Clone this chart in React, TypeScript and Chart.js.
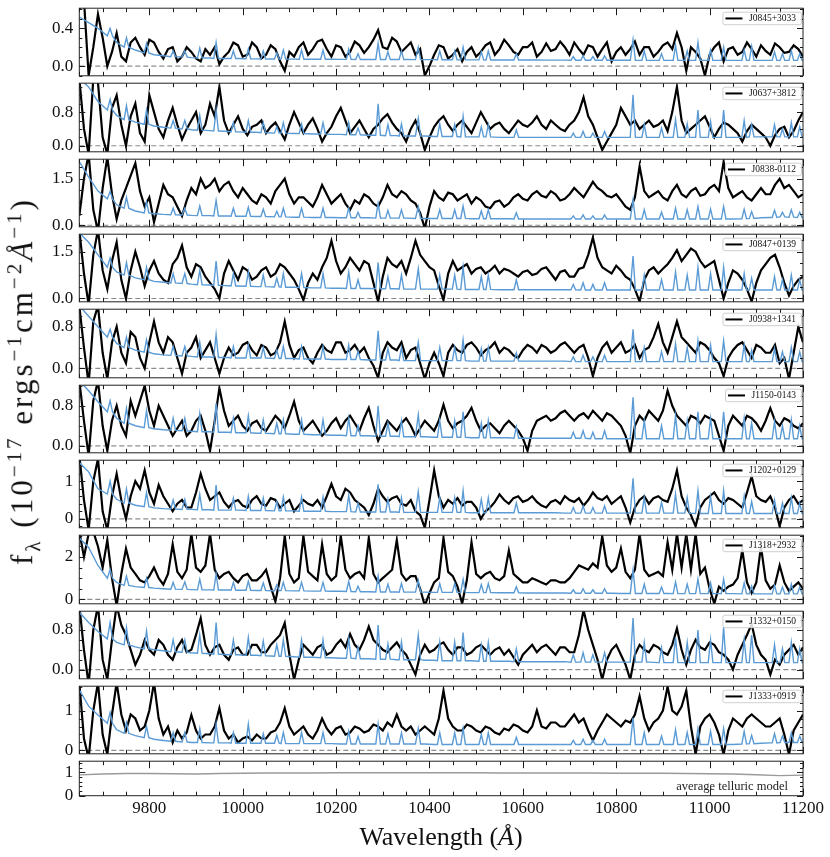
import React, { useEffect, useRef } from "react";
import { Chart, registerables } from "chart.js";
Chart.register(...registerables);

// ---------- data ----------
const WAVE_START = 9650;
const BLACK_STEP = 10;
const BLUE_STEP = 20;
const TELL_STEP = 50;
const X_MIN = 9650;
const X_MAX = 11200;
const xTickLabels = [9800, 10000, 10200, 10400, 10600, 10800, 11000, 11200];

const names = ["J0845+3033", "J0637+3812", "J0838-0112", "J0847+0139", "J0938+1341", "J1150-0143", "J1202+0129", "J1318+2932", "J1332+0150", "J1333+0919"];

const skyLines = [9716, 9751, 9794, 9851, 9876, 9908, 9943, 9980, 10012, 10044, 10073, 10087, 10126, 10172, 10227, 10247, 10290, 10311, 10340, 10376, 10422, 10454, 10472, 10511, 10526, 10586, 10708, 10729, 10750, 10775, 10836, 10860, 10897, 10927, 10952, 10975, 11002, 11030, 11074, 11090, 11139, 11156, 11175, 11193];

const black1 = [0.6,0.7,-0.1,0.2,0.55,0.3,0.0,0.15,0.35,0.1,0.05,0.25,0.3,0.2,0.12,0.28,0.25,0.15,0.08,0.18,
0.2,0.05,0.1,0.2,0.15,0.08,0.05,0.18,0.12,0.2,0.02,0.1,0.15,0.25,0.22,0.1,0.12,0.25,0.2,0.08,
0.12,0.22,0.18,0.05,-0.05,0.15,0.1,0.2,0.25,0.12,0.18,0.26,0.28,0.18,0.1,0.22,0.2,0.1,0.15,0.26,
0.22,0.14,0.2,0.28,0.38,0.2,0.18,0.3,0.26,0.15,0.2,0.25,0.12,0.18,-0.1,0.0,0.12,0.22,0.2,0.08,
0.12,0.18,0.05,0.15,0.2,0.1,0.15,0.22,0.25,0.12,0.18,0.28,0.22,0.15,0.12,0.2,0.2,0.25,0.1,0.15,
0.24,0.16,0.18,0.26,0.2,0.12,0.25,0.18,0.12,0.22,0.2,0.1,0.18,0.25,0.05,0.15,0.2,0.12,0.18,0.26,
0.12,0.2,0.2,0.1,0.15,0.22,0.25,0.18,0.35,0.2,-0.05,0.2,0.15,0.08,-0.1,0.12,0.2,0.25,0.05,0.18,
0.2,0.12,0.15,0.25,0.18,0.1,0.22,0.16,0.12,0.24,0.2,0.14,0.15,0.22,0.18,0.1,0.12];
const black2 = [1.6,0.4,-0.2,1.6,1.5,0.2,-0.2,0.9,1.2,0.5,0.0,0.7,1.0,0.3,0.1,1.2,0.8,0.4,0.2,0.6,
0.9,0.5,0.15,0.4,0.6,0.8,0.3,0.5,1.0,0.7,1.4,0.6,0.3,0.5,0.7,0.4,0.25,0.45,0.5,0.6,
0.3,0.45,0.55,0.35,0.15,0.5,0.8,0.55,0.3,0.5,0.65,0.4,0.1,0.3,0.45,0.7,0.9,0.6,0.3,0.45,
0.6,0.4,0.2,0.4,0.5,0.65,0.75,0.55,0.4,0.3,0.1,0.4,0.6,0.3,-0.1,0.2,0.45,0.6,0.7,0.5,
0.35,0.5,0.6,0.45,0.3,0.55,0.8,0.6,0.4,0.5,0.55,0.4,0.3,0.45,0.6,0.5,0.45,0.55,0.7,0.5,
0.4,0.6,0.5,0.4,0.35,0.5,0.6,0.8,1.15,0.7,0.5,0.2,-0.1,0.1,0.3,0.5,0.9,0.7,0.5,0.6,
0.4,0.5,0.6,0.45,0.5,0.6,0.35,0.8,1.4,0.6,0.3,0.4,0.5,0.6,0.7,0.45,0.2,0.4,0.55,0.5,
0.4,0.3,0.1,0.35,0.5,0.4,0.3,0.2,0.0,0.25,0.4,0.45,0.2,0.35,0.6,0.8,1.0];
const black3 = [0.3,1.5,2.3,0.5,-0.2,1.2,2.2,1.0,0.2,0.8,1.2,1.6,2.0,1.1,0.6,0.9,0.1,0.7,1.3,1.0,
0.9,0.6,0.3,0.8,1.2,1.0,1.5,1.2,1.3,1.5,1.1,1.3,1.4,1.1,0.9,1.2,1.0,0.8,0.7,1.0,
0.9,0.7,1.1,1.3,1.5,1.0,0.7,0.9,0.9,0.75,0.6,0.9,1.3,1.0,0.7,0.85,1.0,0.7,0.5,0.8,
0.7,1.0,0.9,0.7,0.6,0.9,1.3,1.0,0.9,1.1,1.0,0.8,0.7,0.4,-0.1,0.6,1.1,0.9,0.8,1.05,
1.0,0.8,0.9,1.0,0.7,0.9,0.8,0.6,0.55,0.75,0.8,0.6,0.7,0.9,1.0,0.85,0.8,1.0,1.1,0.95,
0.9,1.1,1.0,0.8,0.85,1.0,1.2,1.05,0.9,1.15,1.4,1.2,1.1,0.95,0.9,1.0,0.8,0.6,0.5,0.9,
1.9,1.1,0.9,1.0,1.1,0.9,0.8,1.1,1.3,1.0,0.9,1.1,1.2,0.95,1.0,1.2,1.3,1.1,2.05,1.2,
0.9,1.0,1.1,0.9,0.8,1.0,1.2,1.0,1.0,1.3,1.5,1.2,1.3,1.1,0.9,1.0,1.1];
const black4 = [2.2,0.8,-0.2,1.4,2.2,0.9,0.3,1.2,1.8,0.6,0.0,0.9,1.5,1.0,0.4,0.9,1.2,0.8,0.6,0.5,
1.1,1.3,1.7,1.0,0.7,1.1,1.0,0.7,0.5,0.3,0.0,0.8,1.2,0.9,0.6,1.0,0.9,0.6,0.7,0.9,
1.0,0.7,0.8,1.1,1.0,0.8,0.6,0.3,-0.05,0.5,0.8,0.6,1.0,1.3,1.85,1.2,0.8,1.0,1.3,1.1,
0.9,1.2,1.1,0.5,-0.1,0.7,1.3,1.1,1.0,1.2,0.8,1.3,1.85,1.4,1.2,1.0,0.9,0.4,-0.05,0.8,
1.2,0.9,1.0,1.1,0.8,0.95,1.0,0.8,0.9,1.05,0.8,0.95,0.9,0.8,0.7,0.85,0.9,0.75,0.8,0.95,
1.0,0.8,0.6,0.85,0.9,0.7,0.7,0.95,1.0,1.4,1.95,1.3,1.0,0.9,0.8,1.05,0.9,0.7,0.6,0.3,
-0.1,0.6,0.9,1.0,0.8,0.95,1.1,1.3,1.55,1.2,1.4,1.6,1.5,1.2,1.0,1.1,1.2,0.6,0.0,0.5,
0.9,0.8,0.6,0.3,-0.1,0.5,0.9,1.1,1.3,1.4,1.0,0.5,0.1,0.4,0.6,0.7,0.5];
const black5 = [1.2,0.4,-0.3,0.9,1.2,0.3,-0.2,0.5,0.8,0.3,0.1,0.7,0.6,0.2,0.0,0.5,0.9,0.5,0.3,0.6,
0.5,0.2,-0.1,0.3,0.4,0.6,0.2,0.35,0.5,0.2,-0.1,0.2,0.4,0.25,0.3,0.45,0.5,0.35,0.25,0.45,
0.4,0.25,0.3,0.5,0.9,0.45,0.2,0.35,0.4,0.2,0.1,0.3,0.45,0.35,0.3,0.5,0.5,0.3,0.35,0.45,
0.3,0.4,0.2,0.05,-0.18,0.3,0.5,0.4,0.35,0.5,0.2,0.35,0.4,0.1,-0.2,0.1,0.3,0.1,-0.15,0.3,
0.45,0.35,0.3,0.45,0.5,0.4,0.25,0.35,0.4,0.5,0.3,0.4,0.35,0.25,0.2,0.35,0.45,0.4,0.3,0.45,
0.4,0.3,0.35,0.45,0.5,0.4,0.3,0.4,0.45,0.2,-0.15,0.2,0.4,0.5,0.3,0.4,0.5,0.3,0.35,0.45,
0.2,0.35,0.4,0.6,0.85,0.5,0.3,0.6,0.9,0.6,0.5,0.4,0.3,0.5,0.45,0.35,0.2,0.1,-0.15,0.2,
0.35,0.45,0.5,0.35,0.2,0.45,0.4,0.3,0.3,0.45,0.1,0.2,-0.2,0.3,0.8,0.5,0.3];
const black6 = [1.3,0.5,-0.2,0.9,1.3,0.4,-0.1,0.5,0.8,0.4,0.2,0.9,0.6,0.9,1.2,0.7,0.4,0.8,0.6,0.4,
0.2,0.35,0.5,0.2,0.3,0.5,0.6,0.3,-0.1,0.5,1.15,0.7,0.4,0.5,0.6,0.4,0.3,0.45,0.5,0.35,
0.3,0.45,0.6,0.5,0.35,0.6,0.88,0.5,0.3,0.4,0.5,0.35,0.2,0.3,0.45,0.55,0.35,0.5,0.6,0.45,
0.3,0.55,0.76,0.4,0.1,0.3,0.5,0.4,0.3,0.45,0.55,0.4,0.2,0.35,0.5,0.4,0.3,0.5,0.82,0.5,
0.35,0.45,0.5,0.6,0.76,0.5,0.3,0.4,0.45,0.35,0.25,0.4,0.5,0.4,0.3,0.15,-0.1,0.3,0.5,0.55,
0.6,0.5,0.55,0.65,0.7,0.6,0.5,0.6,0.65,0.55,0.7,0.6,0.5,0.65,0.6,0.5,0.4,0.2,-0.15,0.4,
0.6,0.5,0.7,0.6,0.5,0.7,1.1,0.8,0.6,0.5,0.4,0.6,0.55,0.45,0.6,0.55,0.5,0.2,-0.1,0.4,
0.6,0.5,0.4,0.6,0.55,0.45,0.3,0.5,0.75,0.5,0.4,0.55,0.5,0.4,0.35,0.45,0.5];
const black7 = [1.7,0.5,-0.3,1.0,1.6,0.2,-0.3,0.6,1.2,0.5,0.0,0.6,1.0,0.8,1.29,0.7,0.4,0.9,0.6,0.4,
0.2,0.4,0.5,0.3,0.3,0.7,1.2,0.8,0.5,0.6,0.7,0.45,0.3,0.45,0.5,0.35,0.3,0.5,0.6,0.4,
0.35,0.55,0.5,0.3,0.4,0.5,0.2,0.35,0.5,0.4,0.35,0.5,0.3,0.6,0.93,0.6,0.5,0.8,0.7,0.5,
0.4,0.3,0.1,0.4,0.8,0.6,0.45,0.55,0.6,0.4,0.35,0.5,0.2,0.1,-0.24,0.5,1.29,0.6,0.3,0.5,
0.4,0.55,0.35,0.45,0.45,0.3,0.0,0.2,0.3,0.45,0.65,0.5,0.4,0.55,0.6,0.45,0.5,0.6,0.45,0.35,
0.3,0.45,0.5,0.4,0.6,0.5,0.45,0.55,0.35,0.5,0.7,0.55,0.5,0.6,0.4,0.5,0.6,0.3,-0.1,0.3,
0.5,0.6,0.4,0.55,0.6,0.5,0.45,0.8,1.29,0.6,0.3,0.1,-0.2,0.3,0.5,0.6,0.7,0.5,0.4,0.55,
0.5,0.4,0.3,0.7,1.13,0.6,0.5,0.45,0.6,0.3,-0.2,0.3,0.5,0.6,0.4,0.5,0.55];
const black8 = [3.2,2.0,3.1,3.2,2.5,1.5,2.8,1.0,-0.3,1.2,2.39,1.5,1.2,0.9,0.8,1.1,1.5,1.0,0.7,1.2,
2.6,1.3,1.0,1.4,3.1,1.5,1.3,1.6,3.1,1.4,1.0,1.2,1.3,1.0,0.8,1.1,1.2,0.9,0.9,1.1,
1.4,0.6,-0.1,1.0,3.0,1.2,0.8,1.0,3.0,1.3,1.1,0.9,2.6,1.2,0.9,1.1,3.0,1.4,1.0,1.2,
1.3,1.0,2.9,1.2,0.8,1.0,1.2,1.4,2.8,1.2,0.9,1.1,1.1,0.5,-0.3,0.3,0.8,1.0,2.9,1.3,
1.1,0.6,-0.2,0.9,2.7,1.2,1.0,1.2,1.3,1.0,0.9,1.1,2.3,1.2,1.0,0.8,0.8,1.0,0.9,0.8,
0.7,0.9,0.9,0.8,0.8,1.0,1.3,1.6,1.5,1.4,1.7,1.5,2.98,1.6,1.3,1.5,2.4,1.3,1.0,1.4,
3.1,1.4,1.1,1.2,1.3,1.1,2.7,1.4,3.1,1.5,3.1,1.4,3.1,1.2,1.5,0.5,-0.2,0.6,0.4,0.6,
0.7,1.0,2.33,0.8,0.3,0.8,2.5,0.9,0.5,0.7,1.6,0.8,0.4,0.6,0.8,0.5,0.3];
const black9 = [1.3,0.4,-0.3,0.8,1.3,0.2,-0.2,0.6,1.3,0.9,0.7,0.4,0.1,0.3,0.6,0.4,0.3,0.6,0.5,0.3,
0.2,0.45,0.6,0.35,0.4,0.7,1.04,0.5,0.3,0.45,0.5,0.3,0.2,0.4,0.45,0.3,0.3,0.5,0.5,0.35,
0.35,0.5,0.6,0.7,0.94,0.3,-0.2,0.2,0.5,0.4,0.3,0.45,0.5,0.3,0.35,0.5,0.6,0.45,0.72,0.5,
0.4,0.6,0.87,0.6,0.5,0.4,0.35,0.45,0.55,0.4,0.3,0.1,-0.1,0.3,0.5,0.35,0.4,0.5,0.55,0.4,
0.3,0.45,0.45,0.3,0.35,0.45,0.5,0.4,0.3,0.4,0.45,0.3,0.4,0.25,0.1,0.3,0.4,0.5,0.35,0.45,
0.5,0.4,0.3,0.45,0.45,0.35,0.35,0.7,1.2,0.8,0.5,0.2,-0.2,0.2,0.4,0.5,0.3,0.1,-0.2,0.3,
0.5,0.4,0.35,0.5,0.45,0.35,0.3,0.5,0.83,0.4,0.1,0.4,0.6,0.45,0.4,0.55,0.5,0.35,0.3,0.2,
0.0,0.3,0.5,0.7,0.92,0.5,0.3,0.2,-0.1,0.2,0.1,0.3,0.4,0.5,0.3,0.45,0.5];
const black10 = [1.7,0.3,-0.2,1.0,1.7,0.4,-0.1,0.9,1.7,0.9,0.5,0.9,0.8,0.5,0.6,1.0,1.7,0.8,0.4,0.6,
0.2,0.5,0.3,0.45,0.89,0.5,0.3,0.4,0.4,0.6,1.06,0.5,0.3,0.4,0.2,0.3,0.35,0.25,0.4,0.3,
0.3,0.45,0.5,0.7,1.06,0.6,0.4,0.5,0.6,0.4,0.3,0.5,0.8,0.55,0.4,0.55,0.6,0.4,0.45,0.6,
0.55,0.45,0.5,0.65,0.6,0.5,0.7,0.6,0.9,0.6,0.5,0.6,0.4,0.5,0.6,0.5,0.4,0.8,1.5,0.8,
0.6,0.5,0.5,0.65,0.6,0.5,0.45,0.6,0.55,0.45,0.4,0.55,0.5,0.65,0.6,0.5,0.45,0.6,1.0,0.6,
0.55,0.7,0.7,0.6,0.6,0.75,0.9,0.7,0.8,0.5,0.25,0.5,0.7,0.9,0.8,0.7,0.6,0.75,0.7,0.9,
1.36,0.8,0.5,0.7,0.8,1.0,1.6,1.0,0.9,1.1,1.5,0.6,-0.1,0.6,0.8,0.9,0.7,0.4,-0.1,0.5,
0.8,0.7,0.6,0.8,0.9,0.8,0.7,0.6,0.6,0.7,0.8,0.4,-0.1,0.5,0.7,0.9,0.8];

const blueBase1 = [0.52,0.46,0.4,0.32,0.25,0.2,0.17,0.14,0.12,0.11, 0.1,0.095,0.09,0.085,0.085,0.08,0.08,0.08,0.078,0.076, 0.075,0.075,0.074,0.074,0.073,0.073,0.072,0.072,0.071,0.071, 0.07,0.07,0.07,0.07,0.069,0.069,0.068,0.068,0.068,0.067, 0.067,0.066,0.066,0.066,0.065,0.065,0.065,0.064,0.064,0.064, 0.063,0.063,0.063,0.062,0.062,0.062,0.062,0.061,0.061,0.061, 0.06,0.06,0.06,0.06,0.06,0.06,0.06,0.06,0.06,0.06, 0.06,0.06,0.06,0.06,0.06,0.06,0.06,0.06,0.06];
const blueBase2 = [1.6,1.4,1.05,0.85,0.72,0.62,0.56,0.51,0.47,0.44, 0.42,0.4,0.38,0.37,0.36,0.35,0.34,0.33,0.32,0.32, 0.31,0.3,0.3,0.29,0.29,0.28,0.28,0.27,0.27,0.26, 0.26,0.25,0.25,0.24,0.24,0.23,0.23,0.23,0.22,0.22, 0.22,0.21,0.21,0.21,0.21,0.2,0.2,0.2,0.2,0.2, 0.2,0.2,0.2,0.2,0.2,0.2,0.2,0.2,0.2,0.2, 0.2,0.2,0.2,0.2,0.2,0.2,0.2,0.2,0.2,0.2, 0.2,0.2,0.21,0.21,0.21,0.21,0.21,0.21,0.21];
const blueBase3 = [2.05,1.55,1.1,0.85,0.66,0.55,0.46,0.4,0.37,0.35, 0.34,0.33,0.32,0.31,0.31,0.3,0.3,0.29,0.29,0.28, 0.28,0.27,0.27,0.26,0.26,0.25,0.25,0.25,0.24,0.24, 0.24,0.24,0.23,0.23,0.23,0.23,0.22,0.22,0.22,0.22, 0.22,0.22,0.21,0.21,0.21,0.21,0.21,0.2,0.2,0.2, 0.2,0.2,0.2,0.2,0.2,0.2,0.2,0.2,0.2,0.2, 0.2,0.2,0.2,0.2,0.2,0.2,0.2,0.2,0.2,0.2, 0.2,0.21,0.22,0.24,0.25,0.27,0.26,0.25,0.25];
const blueBase4 = [2.1,1.8,1.4,1.0,0.85,0.75,0.66,0.6,0.55,0.52, 0.5,0.48,0.46,0.44,0.43,0.42,0.41,0.4,0.39,0.38, 0.38,0.37,0.36,0.36,0.35,0.34,0.34,0.33,0.33,0.32, 0.32,0.32,0.31,0.31,0.31,0.3,0.3,0.3,0.3,0.3, 0.3,0.29,0.29,0.29,0.29,0.28,0.28,0.28,0.28,0.28, 0.28,0.28,0.28,0.28,0.27,0.27,0.27,0.27,0.27,0.27, 0.27,0.27,0.27,0.27,0.27,0.27,0.27,0.27,0.27,0.27, 0.27,0.27,0.27,0.27,0.27,0.27,0.27,0.27,0.27];
const blueBase5 = [1.2,1.0,0.8,0.6,0.48,0.4,0.35,0.31,0.28,0.26, 0.25,0.24,0.23,0.22,0.22,0.21,0.21,0.2,0.2,0.2, 0.2,0.19,0.19,0.19,0.18,0.18,0.18,0.17,0.17,0.17, 0.17,0.16,0.16,0.16,0.16,0.15,0.15,0.15,0.15,0.15, 0.15,0.15,0.14,0.14,0.14,0.14,0.14,0.14,0.14,0.14, 0.14,0.14,0.14,0.13,0.13,0.13,0.13,0.13,0.13,0.13, 0.13,0.13,0.13,0.13,0.13,0.13,0.13,0.13,0.13,0.13, 0.13,0.13,0.13,0.13,0.13,0.13,0.13,0.13,0.13];
const blueBase6 = [1.3,1.1,0.88,0.68,0.55,0.45,0.4,0.36,0.34,0.32, 0.31,0.3,0.29,0.28,0.28,0.27,0.27,0.26,0.26,0.25, 0.25,0.24,0.24,0.23,0.23,0.22,0.22,0.21,0.21,0.2, 0.2,0.2,0.19,0.19,0.19,0.18,0.18,0.18,0.17,0.17, 0.17,0.17,0.16,0.16,0.16,0.16,0.16,0.15,0.15,0.15, 0.15,0.15,0.15,0.15,0.15,0.14,0.14,0.14,0.14,0.14, 0.14,0.14,0.14,0.14,0.14,0.14,0.14,0.14,0.14,0.14, 0.14,0.14,0.14,0.14,0.14,0.14,0.14,0.14,0.14];
const blueBase7 = [1.5,1.25,0.8,0.66,0.52,0.42,0.36,0.32,0.29,0.27, 0.26,0.25,0.25,0.24,0.24,0.23,0.23,0.23,0.22,0.22, 0.22,0.21,0.21,0.21,0.2,0.2,0.2,0.19,0.19,0.19, 0.18,0.18,0.18,0.18,0.18,0.17,0.17,0.17,0.17,0.17, 0.17,0.17,0.16,0.16,0.16,0.16,0.16,0.16,0.16,0.16, 0.16,0.16,0.15,0.15,0.15,0.15,0.15,0.15,0.15,0.15, 0.15,0.15,0.15,0.15,0.15,0.15,0.14,0.14,0.14,0.14, 0.14,0.14,0.14,0.14,0.14,0.14,0.14,0.14,0.14];
const blueBase8 = [2.9,2.45,1.6,1.0,0.8,0.66,0.6,0.56,0.53,0.5, 0.48,0.47,0.46,0.45,0.45,0.44,0.44,0.43,0.43,0.42, 0.42,0.41,0.41,0.4,0.4,0.39,0.39,0.38,0.38,0.37, 0.36,0.36,0.35,0.35,0.35,0.34,0.34,0.34,0.33,0.33, 0.33,0.33,0.32,0.32,0.32,0.31,0.31,0.31,0.3,0.3, 0.3,0.3,0.3,0.29,0.29,0.29,0.29,0.29,0.28,0.28, 0.28,0.28,0.28,0.28,0.27,0.27,0.27,0.27,0.27,0.27, 0.27,0.26,0.26,0.26,0.26,0.26,0.26,0.26,0.26];
const blueBase9 = [1.16,0.95,0.77,0.62,0.55,0.5,0.46,0.42,0.4,0.38, 0.36,0.35,0.34,0.33,0.32,0.31,0.3,0.3,0.29,0.29, 0.28,0.27,0.27,0.26,0.25,0.25,0.24,0.24,0.23,0.23, 0.22,0.22,0.21,0.21,0.2,0.2,0.2,0.19,0.19,0.18, 0.18,0.18,0.18,0.17,0.17,0.17,0.17,0.16,0.16,0.16, 0.16,0.16,0.16,0.15,0.15,0.15,0.15,0.15,0.15,0.15, 0.15,0.15,0.14,0.14,0.14,0.14,0.14,0.14,0.14,0.14, 0.14,0.14,0.14,0.14,0.14,0.14,0.14,0.14,0.14];
const blueBase10 = [1.52,1.11,0.89,0.68,0.52,0.43,0.37,0.32,0.28,0.25, 0.23,0.21,0.2,0.2,0.19,0.19,0.19,0.18,0.18,0.18, 0.18,0.18,0.17,0.17,0.17,0.17,0.17,0.17,0.16,0.16, 0.16,0.16,0.16,0.16,0.16,0.16,0.16,0.16,0.15,0.15, 0.15,0.15,0.15,0.15,0.15,0.15,0.15,0.15,0.15,0.15, 0.15,0.15,0.15,0.15,0.15,0.15,0.15,0.15,0.15,0.15, 0.15,0.15,0.15,0.15,0.15,0.15,0.15,0.15,0.15,0.15, 0.15,0.16,0.17,0.18,0.19,0.2,0.2,0.2,0.2];

const skyPeaks1 = [0.40,0.30,0.24,0.16,0.16,0.19,0.25,0.16,0.18,0.16, 0.14,0.17,0.17,0.17,0.18,0.13,0.24,0.15,0.16,0.2, 0.16,0.16,0.2,0.15,0.16,0.13,0.1,0.11,0.1,0.11, 0.28,0.16,0.13,0.22,0.16,0.25,0.17,0.2,0.17,0.21, 0.15,0.13,0.16,0.13];
const skyPeaks2 = [1.1,0.95,0.85,0.6,0.6,0.72,0.85,0.55,0.6,0.55, 0.45,0.55,0.52,0.55,0.55,0.42,1.0,0.5,0.52,0.65, 0.52,0.5,0.7,0.45,0.5,0.38,0.3,0.34,0.3,0.34, 1.21,0.5,0.42,0.62,0.52,0.85,0.58,0.85,0.6,0.5, 0.5,0.4,0.55,0.45];
const skyPeaks3 = [1.1,0.9,0.75,0.55,0.55,0.62,0.8,0.55,0.58,0.52, 0.45,0.55,0.55,0.55,0.55,0.42,0.7,0.48,0.5,0.6, 0.5,0.5,0.62,0.46,0.5,0.4,0.3,0.33,0.3,0.33, 0.82,0.5,0.42,0.55,0.5,0.6,0.52,0.6,0.52,0.44, 0.48,0.42,0.5,0.42];
const skyPeaks4 = [1.3,1.15,1.0,0.8,0.8,0.9,1.2,0.8,0.85,0.75, 0.65,0.8,0.8,0.8,0.85,0.6,1.15,0.7,0.75,0.95, 0.75,0.75,1.0,0.7,0.75,0.6,0.45,0.5,0.45,0.5, 1.36,0.75,0.6,0.85,0.75,1.0,0.8,1.0,0.8,0.65, 0.7,0.6,0.75,0.6];
const skyPeaks5 = [0.75,0.6,0.55,0.42,0.42,0.5,0.65,0.42,0.45,0.4, 0.35,0.42,0.42,0.42,0.45,0.33,0.72,0.38,0.4,0.5, 0.4,0.4,0.55,0.38,0.4,0.3,0.22,0.25,0.22,0.25, 0.75,0.4,0.32,0.47,0.4,0.53,0.45,0.53,0.45,0.35, 0.38,0.32,0.4,0.32];
const skyPeaks6 = [0.9,0.75,0.7,0.55,0.55,0.65,0.85,0.55,0.6,0.52, 0.45,0.52,0.52,0.52,0.55,0.4,0.8,0.45,0.5,0.62, 0.5,0.5,0.68,0.45,0.5,0.38,0.27,0.3,0.27,0.3, 0.97,0.5,0.4,0.6,0.5,0.68,0.55,0.68,0.55,0.45, 0.48,0.4,0.52,0.4];
const skyPeaks7 = [1.0,0.8,0.7,0.5,0.52,0.65,0.9,0.55,0.6,0.55, 0.45,0.58,0.58,0.58,0.62,0.42,0.92,0.52,0.56,0.72, 0.56,0.56,0.75,0.52,0.56,0.42,0.3,0.34,0.3,0.34, 1.08,0.56,0.44,0.66,0.56,0.75,0.6,0.75,0.6,0.46, 0.5,0.42,0.56,0.42];
const skyPeaks8 = [1.4,1.1,1.0,0.8,0.82,0.95,1.2,0.8,0.85,0.78, 0.68,0.8,0.8,0.8,0.85,0.62,1.1,0.72,0.75,0.9, 0.75,0.75,0.95,0.7,0.75,0.6,0.45,0.5,0.45,0.5, 1.39,0.72,0.58,0.82,0.72,0.95,0.78,0.95,0.78,0.62, 0.66,0.58,0.72,0.58];
const skyPeaks9 = [0.95,0.85,0.78,0.6,0.6,0.7,0.95,0.6,0.65,0.58, 0.5,0.6,0.6,0.6,0.62,0.45,0.9,0.52,0.56,0.7, 0.56,0.56,0.75,0.5,0.55,0.42,0.3,0.34,0.3,0.34, 1.04,0.55,0.44,0.65,0.55,0.8,0.6,0.86,0.6,0.7, 0.5,0.42,0.55,0.42];
const skyPeaks10 = [0.95,0.7,0.6,0.45,0.45,0.55,0.66,0.45,0.66,0.42, 0.38,0.45,0.45,0.45,0.48,0.35,0.66,0.42,0.44,0.55, 0.44,0.44,0.55,0.4,0.44,0.33,0.25,0.28,0.25,0.28, 0.82,0.45,0.36,0.52,0.45,0.55,0.48,0.55,0.48,0.38, 0.42,0.36,0.44,0.36];

const telluric = [0.89,0.93,0.95,0.95,0.94,0.93,0.95,0.96,0.97,0.97, 0.97,0.98,0.98,0.98,0.98,0.98,0.98,0.98,0.97,0.97, 0.97,0.97,0.97,0.96,0.96,0.96,0.95,0.94,0.93,0.9, 0.86,0.88];

// axis ranges & ticks per panel
const yMins = [-0.103, -0.144, -0.05, -0.106, -0.18, -0.14, -0.24, -0.21, -0.186, -0.084];
const yMaxs = [0.613, 1.487, 2.13, 2.06, 1.135, 1.21, 1.56, 3.03, 1.18, 1.61];
const yMajors = [[0, 0.4], [0, 0.8], [0, 1.5], [0, 1.5], [0, 0.8], [0, 0.8], [0, 1], [0, 2], [0, 0.8], [0, 1]];
const yMinorSteps = [0.1, 0.2, 0.375, 0.375, 0.2, 0.2, 0.2, 0.5, 0.2, 0.2];
const yDecimals = [1, 1, 1, 1, 1, 1, 0, 0, 1, 0];
const tellMin = 0, tellMax = 1.478, tellMajors = [0, 1], tellMinor = 0.2;

const blacks = [black1, black2, black3, black4, black5, black6, black7, black8, black9, black10];
const blueBases = [blueBase1, blueBase2, blueBase3, blueBase4, blueBase5, blueBase6, blueBase7, blueBase8, blueBase9, blueBase10];
const skyPeaks = [skyPeaks1, skyPeaks2, skyPeaks3, skyPeaks4, skyPeaks5, skyPeaks6, skyPeaks7, skyPeaks8, skyPeaks9, skyPeaks10];

// ---------- style / layout ----------
const FONT = '"Liberation Serif", "Times New Roman", serif';
const W = 830;
const PLOT_LEFT = 79.3;
const PLOT_RIGHT = 803;
const TOP0 = 4.5;
const PANEL_H = 75.32;
const TELL_H = 38;
const X_AXIS_H = 40;
const BLUE = "#5b9bd5";
const SHOULDER = 5;
const X_MINOR = 50;

function gridPoints(vals: number[], start: number, step: number) {
  return vals.map((v, i) => ({ x: start + i * step, y: v }));
}

function bluePoints(base: number[], peaks: number[]) {
  const pts: { x: number; y: number }[] = [];
  base.forEach((v, i) => {
    const x = WAVE_START + i * BLUE_STEP;
    if (!skyLines.some((l) => Math.abs(l - x) <= SHOULDER)) pts.push({ x, y: v });
  });
  skyLines.forEach((l, j) => {
    const k = Math.min(base.length - 1, Math.max(0, Math.round((l - WAVE_START) / BLUE_STEP)));
    const b = base[k];
    pts.push({ x: l - SHOULDER, y: b }, { x: l, y: peaks[j] }, { x: l + SHOULDER, y: b });
  });
  pts.sort((a, b) => a.x - b.x);
  return pts;
}

const framePlugin = {
  id: "frame",
  beforeDatasetsDraw(chart: any, _args: any, opts: any) {
    if (!opts.zeroLine) return;
    const { ctx, chartArea: a, scales } = chart;
    const y0 = scales.y.getPixelForValue(0);
    ctx.save();
    ctx.strokeStyle = "#8c8c8c";
    ctx.lineWidth = 1.2;
    ctx.setLineDash([5, 3]);
    ctx.beginPath();
    ctx.moveTo(a.left, y0);
    ctx.lineTo(a.right, y0);
    ctx.stroke();
    ctx.restore();
  },
  afterDatasetsDraw(chart: any, _args: any, opts: any) {
    const { ctx, chartArea: a, scales } = chart;
    const xs = scales.x, ys = scales.y;
    ctx.save();
    ctx.strokeStyle = "#1a1a1a";
    ctx.lineWidth = 1;
    ctx.beginPath();
    for (let v = X_MIN; v <= X_MAX + 0.01; v += X_MINOR) {
      const px = Math.round(xs.getPixelForValue(v)) + 0.5;
      const len = xTickLabels.includes(v) ? 7 : 4;
      ctx.moveTo(px, a.bottom);
      ctx.lineTo(px, a.bottom - len);
      ctx.moveTo(px, a.top);
      ctx.lineTo(px, a.top + len);
    }
    const step = opts.minor;
    for (let k = Math.ceil(ys.min / step - 1e-6); k * step <= ys.max + 1e-6; k++) {
      const v = k * step;
      const py = Math.round(ys.getPixelForValue(v)) + 0.5;
      const len = opts.majors.some((m: number) => Math.abs(m - v) < 1e-6) ? 6 : 3;
      ctx.moveTo(a.left, py);
      ctx.lineTo(a.left + len, py);
      ctx.moveTo(a.right, py);
      ctx.lineTo(a.right - len, py);
    }
    ctx.stroke();
    ctx.strokeStyle = "#222";
    ctx.strokeRect(a.left, a.top, a.right - a.left, a.bottom - a.top);

    if (opts.label) {
      ctx.font = `9.5px ${FONT}`;
      const tw = ctx.measureText(opts.label).width;
      const boxH = 12.5;
      const boxW = 2 + 17 + 6.5 + tw + 6;
      const boxR = a.right - 1.5;
      const boxL = boxR - boxW;
      const boxT = a.top + 4;
      ctx.fillStyle = "rgba(255,255,255,0.85)";
      ctx.strokeStyle = "#cfcfcf";
      ctx.lineWidth = 1;
      ctx.beginPath();
      if (ctx.roundRect) ctx.roundRect(boxL, boxT, boxW, boxH, 2);
      else ctx.rect(boxL, boxT, boxW, boxH);
      ctx.fill();
      ctx.stroke();
      const cy = boxT + boxH / 2;
      ctx.strokeStyle = "#000";
      ctx.lineWidth = 2;
      ctx.beginPath();
      ctx.moveTo(boxL + 2.5, cy);
      ctx.lineTo(boxL + 19.5, cy);
      ctx.stroke();
      ctx.fillStyle = "#111";
      ctx.textBaseline = "middle";
      ctx.textAlign = "left";
      ctx.fillText(opts.label, boxL + 26, cy + 0.5);
    }
    if (opts.note) {
      ctx.font = `12.5px ${FONT}`;
      ctx.fillStyle = "#222";
      ctx.textAlign = "right";
      ctx.textBaseline = "alphabetic";
      ctx.fillText(opts.note, a.right - 15, a.bottom - 6);
    }
    ctx.restore();
  },
};

type PanelProps = {
  index: number;
  isTell: boolean;
};

function Panel({ index, isTell }: PanelProps) {
  const ref = useRef<HTMLCanvasElement | null>(null);
  const panelTop = TOP0 + index * PANEL_H;
  const panelBottom = panelTop + (isTell ? TELL_H : PANEL_H);
  const canvasTop = Math.floor(panelTop) - 12;
  const canvasBottom = isTell ? 857 : Math.ceil(panelBottom) + 12;
  const canvasH = canvasBottom - canvasTop;
  const padTop = panelTop - canvasTop;
  const padBottom = canvasBottom - panelBottom - (isTell ? X_AXIS_H : 0);

  useEffect(() => {
    const canvas = ref.current;
    if (!canvas) return;
    const datasets: any[] = [];
    let min: number, max: number, majors: number[], minor: number, dec: number;
    if (isTell) {
      datasets.push({
        data: gridPoints(telluric, WAVE_START, TELL_STEP),
        borderColor: "#9a9a9a",
        borderWidth: 1.4,
        pointRadius: 0,
        tension: 0,
        clip: 0,
      });
      min = tellMin; max = tellMax; majors = tellMajors; minor = tellMinor; dec = 0;
    } else {
      datasets.push({
        data: bluePoints(blueBases[index], skyPeaks[index]),
        borderColor: BLUE,
        borderWidth: 1.4,
        pointRadius: 0,
        tension: 0,
        clip: 0,
      });
      datasets.push({
        data: gridPoints(blacks[index], WAVE_START, BLACK_STEP),
        borderColor: "#000",
        borderWidth: 2.2,
        pointRadius: 0,
        tension: 0,
        clip: 0,
      });
      min = yMins[index]; max = yMaxs[index]; majors = yMajors[index]; minor = yMinorSteps[index]; dec = yDecimals[index];
    }
    const chart = new Chart(canvas, {
      type: "line",
      data: { datasets },
      plugins: [framePlugin],
      options: {
        animation: false,
        responsive: false,
        devicePixelRatio: 1,
        events: [],
        layout: { padding: { left: 0, right: W - PLOT_RIGHT, top: padTop, bottom: padBottom } },
        plugins: {
          legend: { display: false },
          tooltip: { enabled: false },
          frame: { zeroLine: !isTell, majors, minor, label: isTell ? null : names[index], note: isTell ? "average telluric model" : null },
        } as any,
        scales: {
          x: {
            type: "linear",
            min: X_MIN,
            max: X_MAX,
            display: isTell,
            afterFit: (s: any) => { s.height = isTell ? X_AXIS_H : 0; },
            afterBuildTicks: (s: any) => { s.ticks = xTickLabels.map((v) => ({ value: v })); },
            ticks: {
              callback: (v: any) => String(v),
              padding: 3,
              maxRotation: 0,
              autoSkip: false,
              color: "#111",
              font: { family: FONT, size: 17 },
            },
            grid: { display: false, drawTicks: false },
            border: { display: false },
          },
          y: {
            type: "linear",
            min,
            max,
            afterFit: (s: any) => { s.width = PLOT_LEFT; },
            afterBuildTicks: (s: any) => { s.ticks = majors.map((v) => ({ value: v })); },
            ticks: {
              callback: (v: any) => Number(v).toFixed(dec),
              padding: 6,
              color: "#111",
              font: { family: FONT, size: 17 },
            },
            grid: { display: false, drawTicks: false },
            border: { display: false },
          },
        },
      } as any,
    });
    return () => chart.destroy();
  }, []);

  return (
    <canvas
      ref={ref}
      width={W}
      height={canvasH}
      style={{ position: "absolute", left: 0, top: canvasTop, width: W, height: canvasH }}
    />
  );
}

export default function App() {
  const panels = names.map((_, i) => <Panel key={i} index={i} isTell={false} />);
  return (
    <div style={{ position: "absolute", left: 0, top: 0, width: W, height: 857, background: "#fff", overflow: "hidden", fontFamily: FONT, color: "#111" }}>
      {panels}
      <Panel index={10} isTell={true} />
      <div
        style={{
          position: "absolute",
          left: 24,
          top: 381,
          transform: "translate(-50%, -50%) rotate(-90deg)",
          whiteSpace: "nowrap",
          fontSize: 31,
          letterSpacing: 3,
          lineHeight: 1,
        }}
      >
        f<sub style={{ fontSize: "0.68em" }}>λ</sub> (10<sup style={{ fontSize: "0.68em" }}>−17</sup> ergs<sup style={{ fontSize: "0.68em" }}>−1</sup>cm<sup style={{ fontSize: "0.68em" }}>−2</sup><i>Å</i><sup style={{ fontSize: "0.68em" }}>−1</sup>)
      </div>
      <div
        style={{
          position: "absolute",
          left: 441,
          top: 837,
          transform: "translate(-50%, -50%)",
          whiteSpace: "nowrap",
          fontSize: 26,
          lineHeight: 1,
        }}
      >
        Wavelength (<i>Å</i>)
      </div>
    </div>
  );
}
